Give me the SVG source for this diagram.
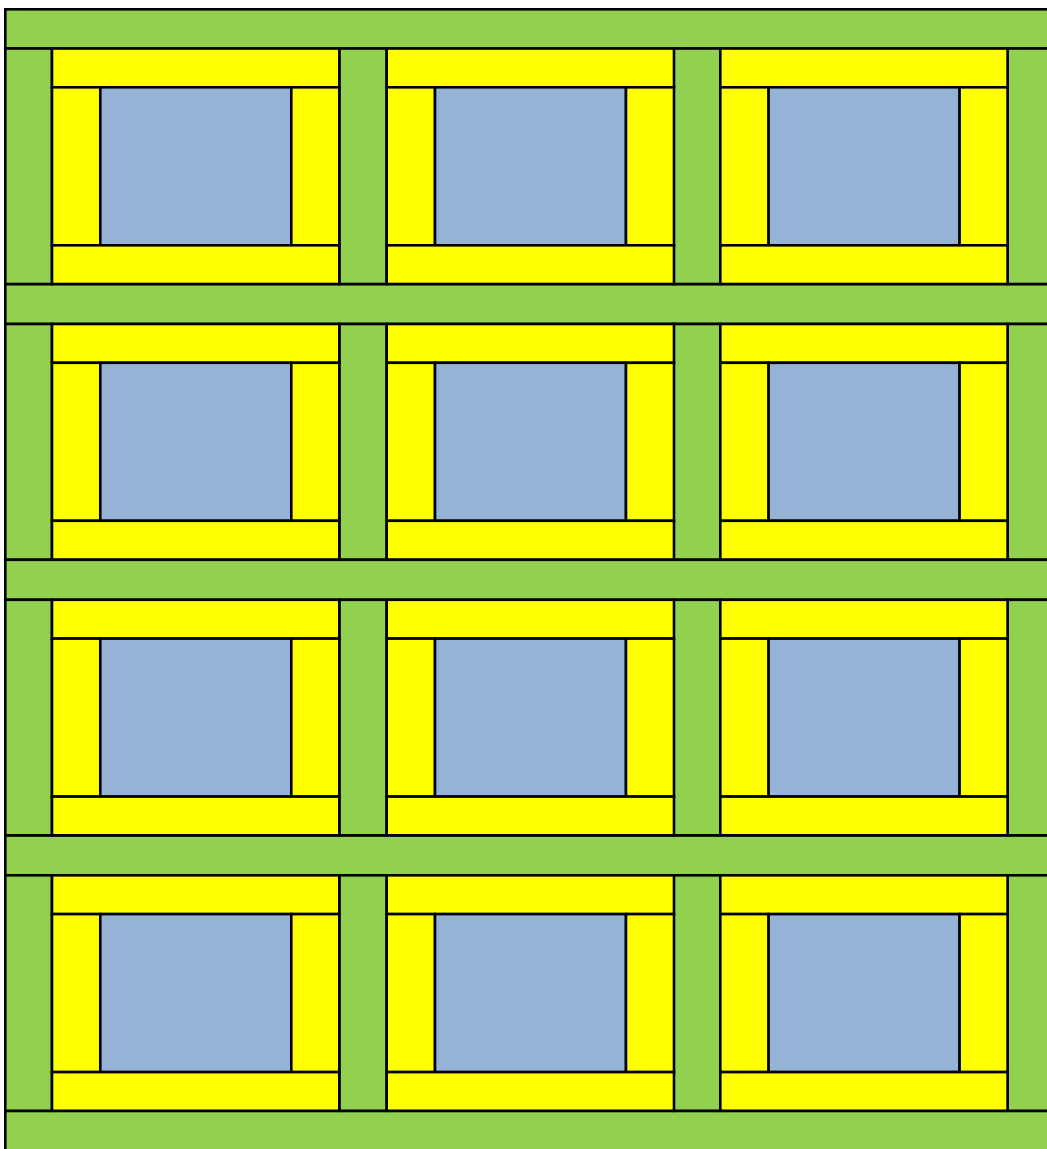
<svg xmlns="http://www.w3.org/2000/svg" xmlns:xlink="http://www.w3.org/1999/xlink" width="1047" height="1149" viewBox="0 0 1047 1149">
<style>
rect{stroke:#000;stroke-width:2.6}
.g{fill:#92D050}
.y{fill:#FFFF00}
.b{fill:#95B3D7}
</style>
<defs>
<g id="blk">
<rect class="y" x="0" y="0" width="287.3" height="38.8"/>
<rect class="y" x="0" y="38.8" width="48.3" height="158"/>
<rect class="b" x="48.3" y="38.8" width="191" height="158"/>
<rect class="y" x="239.3" y="38.8" width="48" height="158"/>
<rect class="y" x="0" y="196.8" width="287.3" height="38.7"/>
</g>
<g id="vs">
<rect class="g" x="5.3" y="0" width="46.7" height="235.5"/>
<rect class="g" x="339.3" y="0" width="47.4" height="235.5"/>
<rect class="g" x="673.3" y="0" width="47" height="235.5"/>
<rect class="g" x="1007.3" y="0" width="60" height="235.5"/>
</g>
</defs>
<g id="sashes">
<rect class="g" x="5.3" y="9.3" width="1060" height="39.2"/>
<rect class="g" x="5.3" y="284" width="1060" height="40"/>
<rect class="g" x="5.3" y="559.8" width="1060" height="40"/>
<rect class="g" x="5.3" y="835.3" width="1060" height="40"/>
<rect class="g" x="5.3" y="1110.9" width="1060" height="60"/>
<use xlink:href="#vs" transform="translate(0,48.5)"/>
<use xlink:href="#vs" transform="translate(0,324)"/>
<use xlink:href="#vs" transform="translate(0,599.8)"/>
<use xlink:href="#vs" transform="translate(0,875.3)"/>
</g>
<g id="block-r1c1"><use xlink:href="#blk" transform="translate(52,48.5)"/></g>
<g id="block-r1c2"><use xlink:href="#blk" transform="translate(386.7,48.5)"/></g>
<g id="block-r1c3"><use xlink:href="#blk" transform="translate(720.3,48.5)"/></g>
<g id="block-r2c1"><use xlink:href="#blk" transform="translate(52,324)"/></g>
<g id="block-r2c2"><use xlink:href="#blk" transform="translate(386.7,324)"/></g>
<g id="block-r2c3"><use xlink:href="#blk" transform="translate(720.3,324)"/></g>
<g id="block-r3c1"><use xlink:href="#blk" transform="translate(52,599.8)"/></g>
<g id="block-r3c2"><use xlink:href="#blk" transform="translate(386.7,599.8)"/></g>
<g id="block-r3c3"><use xlink:href="#blk" transform="translate(720.3,599.8)"/></g>
<g id="block-r4c1"><use xlink:href="#blk" transform="translate(52,875.3)"/></g>
<g id="block-r4c2"><use xlink:href="#blk" transform="translate(386.7,875.3)"/></g>
<g id="block-r4c3"><use xlink:href="#blk" transform="translate(720.3,875.3)"/></g>
</svg>
